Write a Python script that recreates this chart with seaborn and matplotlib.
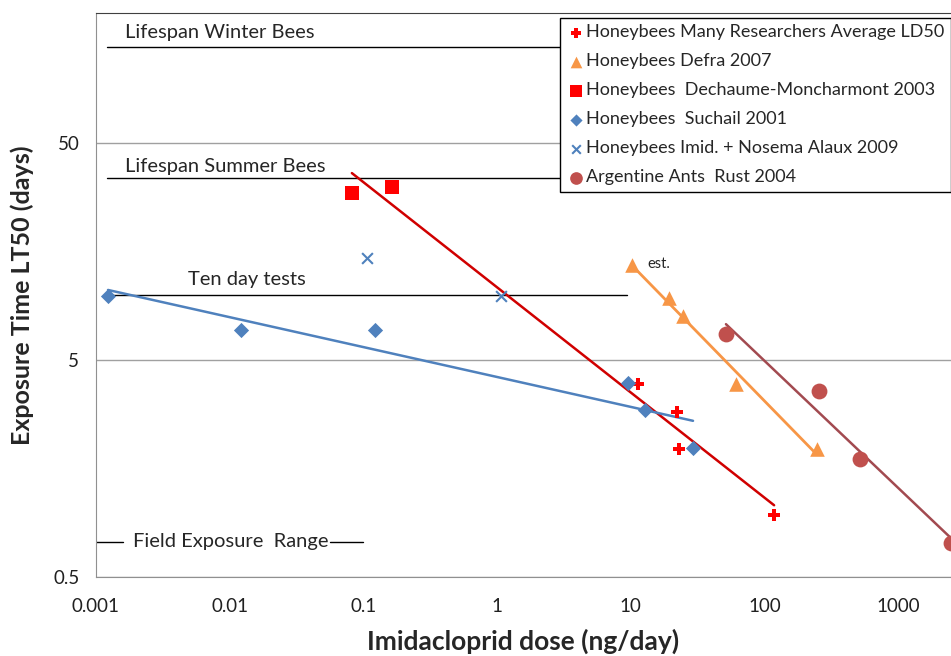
import numpy as np
import matplotlib.pyplot as plt
from matplotlib.ticker import NullLocator
import seaborn as sns

# datos (dosis ng/dia, LT50 dias)
many_x = [11.3, 22.1, 22.9, 118]
many_y = [3.88, 2.88, 1.95, 0.965]
defra_x = [10.2, 19.3, 24.5, 61.2, 247]
defra_y = [13.7, 9.66, 7.97, 3.88, 1.94]
dech_x = [0.082, 0.164]
dech_y = [29.4, 31.3]
such_x = [0.00123, 0.0122, 0.122, 9.5, 12.8, 29.2]
such_y = [9.9, 6.9, 6.9, 3.92, 2.94, 1.96]
alaux_x = [0.106, 1.07]
alaux_y = [14.8, 9.9]
rust_x = [51.5, 256, 518, 2480]
rust_y = [6.6, 3.6, 1.75, 0.72]

# lineas de referencia (dias)
winter_days = 138
summer_days = 34.5
ten_days = 10
field_level = 0.727

x_ticks = [0.001, 0.01, 0.1, 1, 10, 100, 1000]
x_labels = ["0.001", "0.01", "0.1", "1", "10", "100", "1000"]
y_ticks = [0.5, 5, 50]
y_labels = ["0.5", "5", "50"]


def power_fit(xs, ys, n=40):
    # linea de tendencia potencial (ajuste en log-log)
    b, a = np.polyfit(np.log10(xs), np.log10(ys), 1)
    xx = np.geomspace(min(xs), max(xs), n)
    return xx, 10 ** (a + b * np.log10(xx))


sns.set_style("white")
plt.rcParams['font.family'] = ['Lato', 'DejaVu Sans']

fig = plt.figure(figsize=(9.51, 6.56), dpi=100)
ax = fig.add_axes([96 / 951, 79 / 656, 855 / 951, 564 / 656])
ax.set_xscale('log')
ax.set_yscale('log')
ax.set_xlim(0.001, 2483)
ax.set_ylim(0.5, 199)

# lineas de referencia
ax.plot([0.0012, 30], [winter_days, winter_days], color='black', lw=1, zorder=2)
ax.plot([0.0012, 30], [summer_days, summer_days], color='black', lw=1, zorder=2)
ax.plot([0.0012, 9.4], [ten_days, ten_days], color='black', lw=1, zorder=2)
ax.plot([0.001, 0.00159], [field_level, field_level], color='black', lw=1)
ax.plot([0.0562, 0.0993], [field_level, field_level], color='black', lw=1)

ax.text(0.00165, 161, "Lifespan Winter Bees", fontsize=14.5, va='center')
ax.text(0.00165, 39.2, "Lifespan Summer Bees", fontsize=14.5, va='center')
ax.text(0.00488, 11.7, "Ten day tests", fontsize=14.5, va='center')
ax.text(0.00189, field_level, "Field Exposure  Range", fontsize=14.5, va='center')
ax.text(13.4, 13.8, "est.", fontsize=10.5, va='center')

# lineas de tendencia
xx, yy = power_fit(dech_x + many_x, dech_y + many_y)
sns.lineplot(x=xx, y=yy, ax=ax, color='#D00000', lw=1.8, legend=False)
xx, yy = power_fit(such_x, such_y)
sns.lineplot(x=xx, y=yy, ax=ax, color='#4F81BD', lw=1.8, legend=False)
xx, yy = power_fit(defra_x, defra_y)
sns.lineplot(x=xx, y=yy, ax=ax, color='#F79646', lw=2, legend=False)
xx, yy = power_fit(rust_x, rust_y)
sns.lineplot(x=xx, y=yy, ax=ax, color='#A24A50', lw=1.8, legend=False)

# puntos
sns.scatterplot(x=many_x, y=many_y, ax=ax, marker='P', s=80, color='#FF0000',
                linewidth=0, label="Honeybees Many Researchers Average LD50", zorder=4)
sns.scatterplot(x=defra_x, y=defra_y, ax=ax, marker='^', s=110, color='#F79646',
                linewidth=0, label="Honeybees Defra 2007", zorder=4)
sns.scatterplot(x=dech_x, y=dech_y, ax=ax, marker='s', s=100, color='#FF0000',
                linewidth=0, label="Honeybees  Dechaume-Moncharmont 2003", zorder=4)
sns.scatterplot(x=such_x, y=such_y, ax=ax, marker='D', s=60, color='#4F81BD',
                linewidth=0, label="Honeybees  Suchail 2001", zorder=4)
sns.scatterplot(x=alaux_x, y=alaux_y, ax=ax, marker='x', s=60, color='#4F81BD',
                linewidth=1.5, label="Honeybees Imid. + Nosema Alaux 2009", zorder=4)
sns.scatterplot(x=rust_x, y=rust_y, ax=ax, marker='o', s=130, color='#C0504D',
                linewidth=0, label="Argentine Ants  Rust 2004", zorder=4)

h, l = ax.get_legend_handles_labels()
leg = ax.legend(h, l, loc='upper right', bbox_to_anchor=(1.0, 1 - 5 / 564),
                borderaxespad=0, fontsize=13, frameon=True, fancybox=False,
                edgecolor='black', framealpha=1, handletextpad=0.1,
                handlelength=1.0, labelspacing=0.72, borderpad=0.35,
                markerscale=0.8)
leg.get_frame().set_linewidth(1)
leg.set_zorder(10)

ax.set_xticks(x_ticks)
ax.set_xticklabels(x_labels)
ax.set_yticks(y_ticks)
ax.set_yticklabels(y_labels)
ax.xaxis.set_minor_locator(NullLocator())
ax.yaxis.set_minor_locator(NullLocator())
ax.tick_params(axis='both', direction='out', length=7, width=1, color='#909090',
               labelsize=13.5, labelcolor='#202020', pad=5)
ax.tick_params(axis='x', pad=8)
ax.yaxis.grid(True, color='#a0a0a0', lw=1)
ax.xaxis.grid(False)

for s in ['left', 'bottom']:
    ax.spines[s].set_color('#909090')
ax.spines['top'].set_color('#404040')
ax.spines['right'].set_visible(False)

ax.set_xlabel("Imidacloprid dose (ng/day)", fontsize=19, fontweight='bold', labelpad=10)
ax.set_ylabel("Exposure Time LT50 (days)", fontsize=18, fontweight='bold', labelpad=14)

fig.savefig("out.png", dpi=100)
